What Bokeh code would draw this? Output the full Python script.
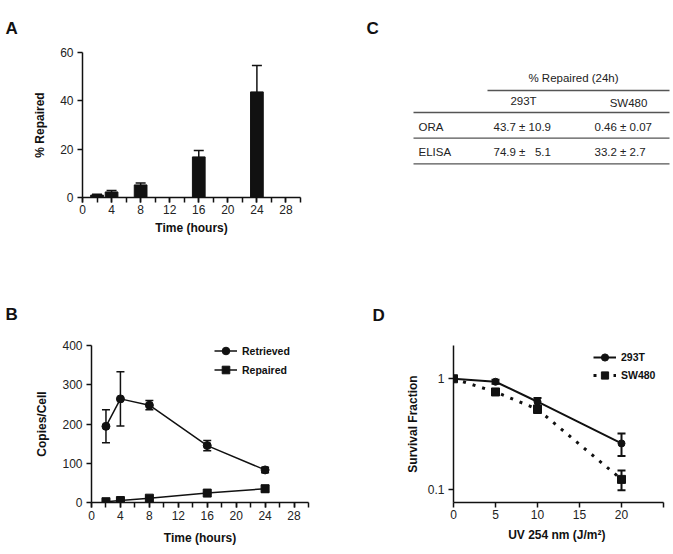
from bokeh.plotting import figure
from bokeh.models import (ColumnDataSource, Whisker, TeeHead, Range1d, SingleIntervalTicker,
                          FixedTicker, Legend, LegendItem, NumeralTickFormatter)
from bokeh.layouts import column, row
from bokeh.core.properties import value
from bokeh.embed import file_html
from bokeh.resources import INLINE

# ---------------- data ----------------
# Panel A: % repaired over time
a_time = [2, 4, 8, 16, 24]
a_repaired = [1.0, 2.3, 5.2, 16.8, 43.7]
a_err = [0.3, 0.6, 0.8, 2.7, 10.9]

# Panel B: copies per cell over time
b_time = [2, 4, 8, 16, 24]
retrieved = [194, 264, 248, 145, 83]
retrieved_err = [42, 69, 12, 13, 7]
repaired = [2, 5, 11, 24, 35]
repaired_err = [2, 3, 3, 3, 8]

# Panel C: table
table_title = "% Repaired (24h)"
col_labels = ["293T", "SW480"]
row_labels = ["ORA", "ELISA"]
vals_293T = ["43.7 ± 10.9", "74.9 ±\u00a0\u00a0 5.1"]
vals_SW480 = ["0.46 ± 0.07", "33.2 ± 2.7"]

# Panel D: survival fraction vs UV dose
uv_dose = [0, 5, 10, 20]
surv_293T = [1.0, 0.94, 0.62, 0.26]
err_293T = [0.0, 0.04, 0.05, 0.06]
surv_SW480 = [1.0, 0.76, 0.53, 0.123]
err_SW480 = [0.0, 0.02, 0.04, 0.025]

FONT = "Liberation Sans"
INK = "#111111"


def style(p, ylab_standoff=8, xlab_standoff=5, xmaj_standoff=3):
    p.outline_line_color = None
    p.grid.visible = False
    p.background_fill_color = "white"
    p.border_fill_color = "white"
    for ax in p.axis:
        ax.axis_line_width = 1.5
        ax.axis_line_color = INK
        ax.major_tick_line_width = 1.5
        ax.major_tick_line_color = INK
        ax.minor_tick_line_width = 1.5
        ax.minor_tick_line_color = INK
        ax.major_tick_in = 0
        ax.major_tick_out = 5
        ax.minor_tick_in = 0
        ax.minor_tick_out = 5
        ax.major_label_text_font = FONT
        ax.major_label_text_font_size = "12px"
        ax.major_label_text_color = "#222222"
        ax.axis_label_text_font = FONT
        ax.axis_label_text_font_size = "12px"
        ax.axis_label_text_font_style = "bold"
        ax.axis_label_text_color = "#111111"
    p.yaxis.axis_label_standoff = ylab_standoff
    p.xaxis.axis_label_standoff = xlab_standoff
    p.xaxis.major_label_standoff = xmaj_standoff
    p.yaxis.major_label_standoff = 4


def letter(p, txt, offset, standoff):
    t = p.title
    t.text = txt
    t.align = "left"
    t.vertical_align = "bottom"
    t.offset = offset
    t.standoff = standoff
    t.text_font = FONT
    t.text_font_size = "17px"
    t.text_font_style = "bold"
    t.text_color = "#111111"


def whisker(p, xs, lo, hi, size=8, lw=1.5, lower=True):
    src = ColumnDataSource(dict(x=xs, lo=lo, hi=hi))
    w = Whisker(source=src, base="x", lower="lo", upper="hi", line_width=lw, line_color=INK,
                upper_head=TeeHead(size=size, line_width=lw, line_color=INK),
                lower_head=TeeHead(size=size, line_width=lw, line_color=INK) if lower else None)
    p.add_layout(w)


# ---------------- Panel A ----------------
pA = figure(width=365, height=280, x_range=Range1d(0, 30), y_range=Range1d(0, 60),
            output_backend="svg", toolbar_location=None,
            min_border_left=82, min_border_right=65, min_border_top=52, min_border_bottom=83)
whisker(pA, a_time, a_repaired, [m + e for m, e in zip(a_repaired, a_err)], size=10, lw=1.5, lower=False)
pA.vbar(x=a_time, top=a_repaired, width=1.75, fill_color=INK, line_color=INK)
pA.xaxis.ticker = SingleIntervalTicker(interval=4, num_minor_ticks=2)
pA.yaxis.ticker = SingleIntervalTicker(interval=20, num_minor_ticks=0)
pA.xaxis.axis_label = "Time (hours)"
pA.yaxis.axis_label = "% Repaired"
style(pA, ylab_standoff=10, xlab_standoff=4, xmaj_standoff=2)
letter(pA, "A", -77, 30)

# ---------------- Panel C (table) ----------------
# frame is aligned with panel A's frame (rows align plot frames): page y 52..197
pC = figure(width=308, height=280, x_range=Range1d(0, 308), y_range=Range1d(197, 52),
            output_backend="svg", toolbar_location=None, x_axis_location=None,
            y_axis_location=None, min_border_left=0, min_border_right=0,
            min_border_top=52, min_border_bottom=83)
pC.outline_line_color = None
pC.grid.visible = False
pC.background_fill_color = "white"
pC.border_fill_color = "white"
tfont = value(FONT)
pC.text(x=[208], y=[77], text=[table_title], text_font=tfont, text_font_size="11.5px",
        text_align="center", text_baseline="middle", text_color="#222222")
pC.text(x=[158, 263], y=[100, 102.5], text=col_labels, text_font=tfont, text_font_size="11.5px",
        text_align="center", text_baseline="middle", text_color="#222222")
row_y = [126.7, 151.7]
pC.text(x=[53] * len(row_labels), y=row_y, text=row_labels, text_font=tfont,
        text_font_size="11.5px", text_align="left", text_baseline="middle", text_color="#222222")
pC.text(x=[128] * len(vals_293T), y=row_y, text=vals_293T, text_font=tfont,
        text_font_size="11.5px", text_align="left", text_baseline="middle", text_color="#222222")
pC.text(x=[229] * len(vals_SW480), y=row_y, text=vals_SW480, text_font=tfont,
        text_font_size="11.5px", text_align="left", text_baseline="middle", text_color="#222222")
pC.segment(x0=[122, 48, 48, 48], y0=[90, 112, 137.7, 163.3], x1=[304, 304, 304, 304],
           y1=[90, 112, 137.7, 163.3], line_color="#555555", line_width=1.3)
letter(pC, "C", 1, 30)

# ---------------- Panel B ----------------
pB = figure(width=365, height=274, x_range=Range1d(0, 30), y_range=Range1d(0, 400),
            output_backend="svg", toolbar_location=None,
            min_border_left=91, min_border_right=57, min_border_top=64, min_border_bottom=52)
whisker(pB, b_time, [m - e for m, e in zip(retrieved, retrieved_err)],
        [m + e for m, e in zip(retrieved, retrieved_err)], size=8, lw=1.5)
whisker(pB, b_time, [m - e for m, e in zip(repaired, repaired_err)],
        [m + e for m, e in zip(repaired, repaired_err)], size=8, lw=1.5)
lr = pB.line(b_time, retrieved, line_color=INK, line_width=1.5)
sr = pB.scatter(b_time, retrieved, marker="circle", size=8, fill_color=INK, line_color=INK)
lp = pB.line(b_time, repaired, line_color=INK, line_width=1.5)
sp = pB.scatter(b_time, repaired, marker="square", size=8, fill_color=INK, line_color=INK)
pB.xaxis.ticker = SingleIntervalTicker(interval=4, num_minor_ticks=2)
pB.yaxis.ticker = SingleIntervalTicker(interval=100, num_minor_ticks=0)
pB.xaxis.axis_label = "Time (hours)"
pB.yaxis.axis_label = "Copies/Cell"
style(pB, ylab_standoff=10, xlab_standoff=8, xmaj_standoff=3)
legB = Legend(items=[LegendItem(label="Retrieved", renderers=[lr, sr]),
                     LegendItem(label="Repaired", renderers=[lp, sp])],
              location=(123, 123), glyph_width=23, glyph_height=19, label_height=19,
              label_standoff=5, spacing=0, padding=0, margin=0, border_line_color=None,
              background_fill_alpha=0, label_text_font=FONT, label_text_font_size="10.5px",
              label_text_font_style="bold", label_text_color="#111111")
pB.add_layout(legB)
letter(pB, "B", -86, 44)

# ---------------- Panel D ----------------
pD = figure(width=308, height=274, x_range=Range1d(0, 25), y_range=Range1d(0.076, 2.0),
            y_axis_type="log", output_backend="svg", toolbar_location=None,
            min_border_left=88, min_border_right=10, min_border_top=64, min_border_bottom=52)
whisker(pD, uv_dose, [m - e for m, e in zip(surv_293T, err_293T)],
        [m + e for m, e in zip(surv_293T, err_293T)], size=8, lw=2)
whisker(pD, uv_dose, [m - e for m, e in zip(surv_SW480, err_SW480)],
        [m + e for m, e in zip(surv_SW480, err_SW480)], size=8, lw=2)
l1 = pD.line(uv_dose, surv_293T, line_color=INK, line_width=2)
s1 = pD.scatter(uv_dose, surv_293T, marker="circle", size=7, fill_color=INK, line_color=INK)
l2 = pD.line(uv_dose, surv_SW480, line_color=INK, line_width=3, line_dash="3 7")
s2 = pD.scatter(uv_dose, surv_SW480, marker="square", size=8, fill_color=INK, line_color=INK)
pD.xaxis.ticker = SingleIntervalTicker(interval=5, num_minor_ticks=0)
pD.xaxis.major_label_overrides = {25: ""}
pD.yaxis.ticker = FixedTicker(ticks=[0.1, 1], minor_ticks=[])
pD.yaxis.formatter = NumeralTickFormatter(format="0.[0]")
pD.xaxis.axis_label = "UV  254 nm (J/m²)"
pD.yaxis.axis_label = "Survival Fraction"
style(pD, ylab_standoff=5, xlab_standoff=6, xmaj_standoff=2)
legD = Legend(items=[LegendItem(label="293T", renderers=[l1, s1]),
                     LegendItem(label="SW480", renderers=[l2, s2])],
              location=(140, 118), glyph_width=23, glyph_height=18, label_height=18,
              label_standoff=5, spacing=0, padding=0, margin=0, border_line_color=None,
              background_fill_alpha=0, label_text_font=FONT, label_text_font_size="10.5px",
              label_text_font_style="bold", label_text_color="#111111")
pD.add_layout(legD)
letter(pD, "D", -81, 42)

layout = column(row(pA, pC), row(pB, pD))
open("out.html", "w").write(file_html(layout, INLINE))
